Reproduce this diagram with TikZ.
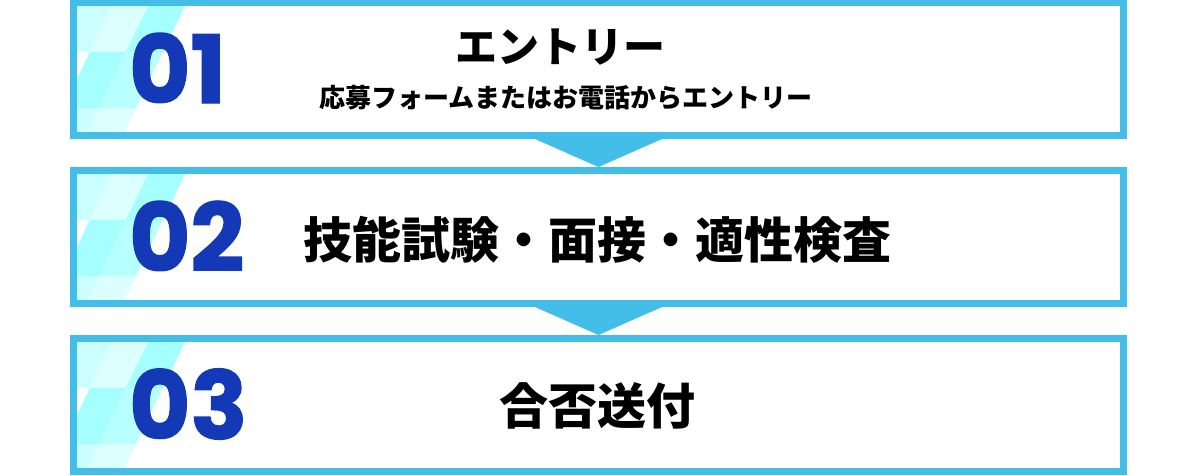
\documentclass[tikz,border=0pt]{standalone}
\usepackage{fontspec}
\usetikzlibrary{calc}
\newfontfamily\jpfont{Noto Sans CJK JP}
\newfontfamily\numfont{Poppins}[BoldFeatures={FakeBold=1.5}]
\definecolor{frame}{HTML}{43BEE8}
\definecolor{numblue}{HTML}{1339B7}
\definecolor{cpale}{HTML}{CCFFFF}
\definecolor{cvpale}{HTML}{DCFFFF}
\definecolor{cbright}{HTML}{A6FFFF}
\definecolor{cmid}{HTML}{B8FFFF}
\tikzset{
  stepbox/.style={draw=frame, line width=7pt, minimum width=1050pt, minimum height=133pt, inner sep=0pt},
  numlabel/.style={font=\numfont\bfseries\fontsize{94}{94}\selectfont, text=numblue, inner sep=0pt, anchor=west},
  jptitle/.style={font=\jpfont\bfseries\fontsize{42}{42}\selectfont, inner sep=0pt},
  jpsub/.style={font=\jpfont\bfseries\fontsize{26}{26}\selectfont, inner sep=0pt},
  jpmain/.style={font=\jpfont\bfseries\fontsize{49}{49}\selectfont, inner sep=0pt},
  flowarrow/.style={fill=frame},
}
% quadrilateral of a band (#1,#2 = y range) and strip (#3,#4 = c range)
\newcommand\bandstrip[5]{%
  \fill[#5] ({#3-0.48*#1},#1) -- ({#4-0.48*#1},#1) -- ({#4-0.48*#2},#2) -- ({#3-0.48*#2},#2) -- cycle;}
\newcommand\stripepattern[1]{%
  \begin{scope}[shift={(77,#1)}]
    \clip (0,0) rectangle (200,126);
    \bandstrip{0}{46}{-100}{35}{cpale}
    \bandstrip{0}{46}{35}{71}{cvpale}
    \bandstrip{0}{46}{71}{108}{cbright}
    \bandstrip{46}{102}{35}{71}{cbright}
    \bandstrip{46}{102}{71}{108}{cmid}
    \bandstrip{102}{126}{-100}{35}{cpale}
    \bandstrip{102}{126}{35}{71}{cpale}
    \bandstrip{102}{126}{71}{108}{cvpale}
  \end{scope}}
\begin{document}
\begin{tikzpicture}[x=1pt,y=-1pt]
\useasboundingbox (0,0) rectangle (1200,475);
\fill[white] (0,0) rectangle (1200,475);
% patterns
\stripepattern{6}
\stripepattern{174}
\stripepattern{342}
% boxes
\node[stepbox] (b1) at (598.5,69) {};
\node[stepbox] (b2) at (598.5,237) {};
\node[stepbox] (b3) at (598.5,405) {};
% arrows
\fill[flowarrow] ($(b1.south)+(-63.5,0)$) -- ($(b1.south)+(63.5,0)$) -- (b2.north) -- cycle;
\fill[flowarrow] ($(b2.south)+(-63.5,0)$) -- ($(b2.south)+(63.5,0)$) -- (b3.north) -- cycle;
% numbers
\node[numlabel] (n1) at (129,68) {01};
\node[numlabel] (n2) at (129,236) {02};
\node[numlabel] (n3) at (129,404) {03};
% texts
\node[jptitle] (t1) at (560,47) {エントリー};
\node[jpsub] (s1) at (566,98) {応募フォームまたはお電話からエントリー};
\node[jpmain] (t2) at (597,240) {技能試験・面接・適性検査};
\node[jpmain] (t3) at (597,406) {合否送付};
\end{tikzpicture}
\end{document}
